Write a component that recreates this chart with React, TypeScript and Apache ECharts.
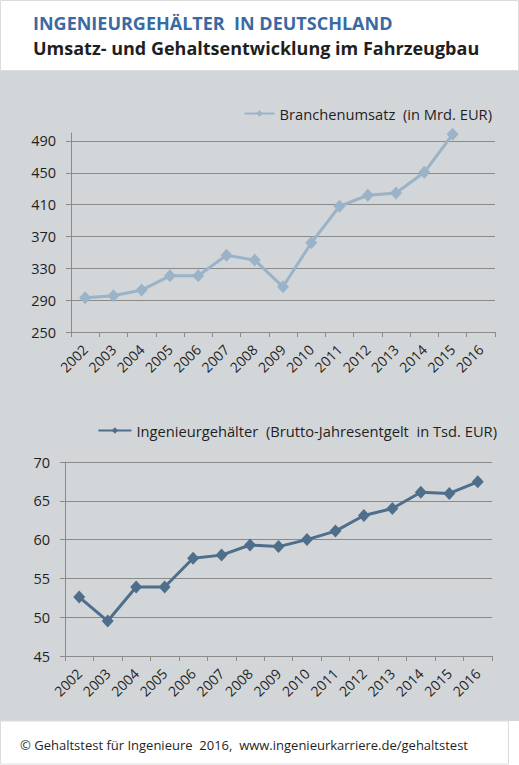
import { useEffect, useRef } from 'react'
import * as echarts from 'echarts'

const YEARS = ['2002', '2003', '2004', '2005', '2006', '2007', '2008', '2009', '2010', '2011', '2012', '2013', '2014', '2015', '2016']
const UMSATZ = [293, 295.5, 302.7, 320.6, 320.6, 346.5, 340.3, 306.8, 362, 408, 421.8, 424.7, 450.6, 498.3, null]
const GEHALT = [52.6, 49.5, 53.9, 53.9, 57.6, 58.0, 59.3, 59.1, 60.0, 61.1, 63.1, 64.0, 66.1, 65.95, 67.45]

const UMSATZ_NAME = 'Branchenumsatz  (in Mrd. EUR)'
const GEHALT_NAME = 'Ingenieurgehälter  (Brutto-Jahresentgelt  in Tsd. EUR)'

const FONT = '"Open Sans", sans-serif'
const TEXT = '#1f1f1f'
const GRID_LINE = '#8a8a8a'
const PANEL = '#d3d6d9'

const axisCommon = {
  axisLine: { show: true, lineStyle: { color: GRID_LINE, width: 1 } },
  axisTick: { show: true, length: 5, lineStyle: { color: GRID_LINE } },
}

export default function App() {
  const ref = useRef<HTMLDivElement>(null)

  useEffect(() => {
    if (!ref.current) return
    const chart = echarts.init(ref.current, undefined, { renderer: 'svg' })

    const xAxis = (gridIndex: number) => ({
      type: 'category',
      gridIndex,
      data: YEARS,
      boundaryGap: true,
      ...axisCommon,
      axisLabel: { rotate: 45, margin: 15, color: TEXT, fontSize: 14, fontFamily: FONT, interval: 0 },
    })

    chart.setOption({
      animation: false,
      backgroundColor: '#fff',
      textStyle: { fontFamily: FONT },
      graphic: [
        { type: 'rect', z: -10, shape: { x: 0, y: 71, width: 519, height: 650 }, style: { fill: PANEL } },
        { type: 'rect', z: -9, shape: { x: 0.5, y: 0.5, width: 518, height: 70 }, style: { fill: '#fff', stroke: '#dcdcdc', lineWidth: 1 } },
        { type: 'rect', z: -9, shape: { x: 0.5, y: 721, width: 508, height: 43 }, style: { fill: '#fff', stroke: '#dcdcdc', lineWidth: 1 } },
      ],
      title: [
        {
          text: 'INGENIEURGEHÄLTER  IN DEUTSCHLAND',
          left: 28,
          top: 9,
          textStyle: { color: '#3a6aa2', fontSize: 18, fontWeight: 'bold', fontFamily: FONT },
        },
        {
          text: 'Umsatz- und Gehaltsentwicklung im Fahrzeugbau',
          left: 28,
          top: 34,
          textStyle: { color: TEXT, fontSize: 18, fontWeight: 'bold', fontFamily: FONT },
        },
        {
          text: '© Gehaltstest für Ingenieure  2016,  www.ingenieurkarriere.de/gehaltstest',
          left: 15,
          top: 733,
          textStyle: { color: TEXT, fontSize: 13, fontWeight: 'normal', fontFamily: FONT },
        },
      ],
      legend: [
        {
          data: [UMSATZ_NAME],
          right: 22,
          top: 101,
          itemWidth: 30,
          itemHeight: 8,
          textStyle: { color: TEXT, fontSize: 14.7, fontFamily: FONT },
        },
        {
          data: [GEHALT_NAME],
          right: 17,
          top: 418,
          itemWidth: 33,
          itemHeight: 8,
          textStyle: { color: TEXT, fontSize: 14.7, fontFamily: FONT },
        },
      ],
      grid: [
        { left: 71, right: 24, top: 133, bottom: 433 },
        { left: 65, right: 27, top: 462, bottom: 109 },
      ],
      xAxis: [xAxis(0), xAxis(1)],
      yAxis: [
        {
          type: 'value',
          gridIndex: 0,
          min: 250,
          max: 500,
          interval: 40,
          ...axisCommon,
          axisLabel: { margin: 15, color: TEXT, fontSize: 14.5, fontFamily: FONT, showMaxLabel: false },
          splitLine: { show: true, showMaxLine: false, lineStyle: { color: GRID_LINE, width: 1 } },
        },
        {
          type: 'value',
          gridIndex: 1,
          min: 45,
          max: 70,
          interval: 5,
          ...axisCommon,
          axisLabel: { margin: 15, color: TEXT, fontSize: 14.5, fontFamily: FONT },
          splitLine: { show: true, lineStyle: { color: GRID_LINE, width: 1 } },
        },
      ],
      series: [
        {
          name: UMSATZ_NAME,
          type: 'line',
          xAxisIndex: 0,
          yAxisIndex: 0,
          data: UMSATZ,
          symbol: 'diamond',
          symbolSize: [12, 13],
          lineStyle: { color: '#9bb3c8', width: 3 },
          itemStyle: { color: '#9bb3c8' },
        },
        {
          name: GEHALT_NAME,
          type: 'line',
          xAxisIndex: 1,
          yAxisIndex: 1,
          data: GEHALT,
          symbol: 'diamond',
          symbolSize: [12, 13],
          lineStyle: { color: '#4e6e8b', width: 3 },
          itemStyle: { color: '#4e6e8b' },
        },
      ],
    })

    return () => chart.dispose()
  }, [])

  return (
    <div
      ref={ref}
      style={{ position: 'absolute', left: 0, top: 0, width: 519, height: 765 }}
    />
  )
}
